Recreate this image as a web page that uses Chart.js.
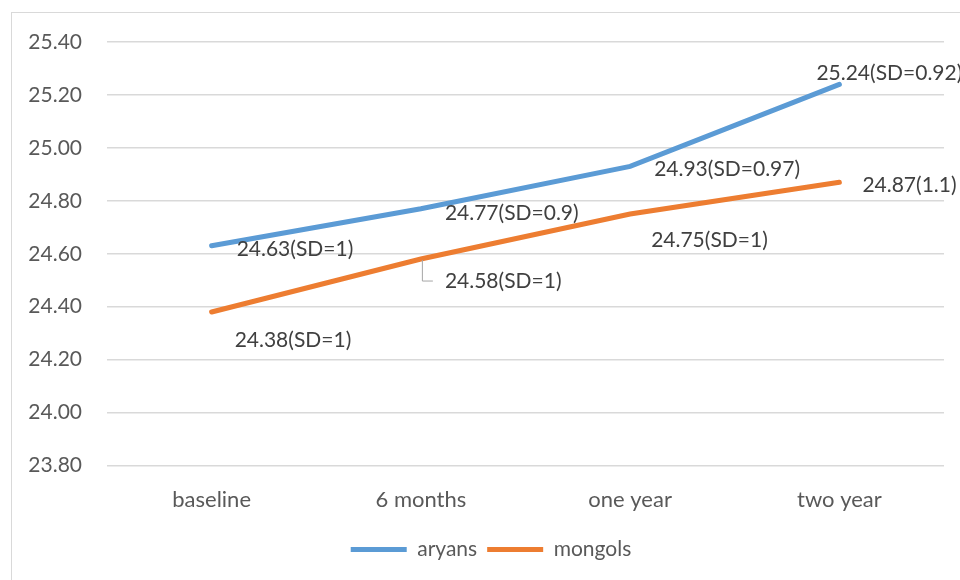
<!DOCTYPE html>
<html>
<head>
<meta charset="utf-8">
<script src="https://cdn.jsdelivr.net/npm/chart.js@4.4.1/dist/chart.umd.min.js"></script>
<style>
  html, body { margin: 0; padding: 0; background: #ffffff; }
  #wrap { width: 960px; height: 580px; position: relative; }
</style>
</head>
<body>
<div id="wrap"><canvas id="chart" width="960" height="580"></canvas></div>
<script>
// values
const categories = ['baseline', '6 months', 'one year', 'two year'];
const aryans = [24.63, 24.77, 24.93, 25.24];
const mongols = [24.38, 24.58, 24.75, 24.87];
const aryansLabels = ['24.63(SD=1)', '24.77(SD=0.9)', '24.93(SD=0.97)', '25.24(SD=0.92)'];
const mongolsLabels = ['24.38(SD=1)', '24.58(SD=1)', '24.75(SD=1)', '24.87(1.1)'];
const yTicks = { min: 23.8, max: 25.4, step: 0.2 };

// where each data label sits relative to its point (px)
const labelOffsets = [
    [[25, 3], [24, 4], [24, 3], [-23, -11]],
    [[23, 28], [24, 22], [21, 26], [23, 3]]
];
const leaderLines = [[], [1]]; // mongols 6 months has a leader line

const FONT = 'Lato, "Liberation Sans", sans-serif';

const frame = {
    id: 'frame',
    beforeDraw(chart) {
        const ctx = chart.ctx;
        ctx.save();
        ctx.strokeStyle = '#d9d9d9';
        ctx.lineWidth = 1;
        ctx.strokeRect(11.5, 12.5, 980, 600);
        ctx.restore();
    }
};

// nudge the legend a little to the right, as in the original
const legendShift = {
    id: 'legendShift',
    afterLayout(chart) {
        const lg = chart.legend;
        if (!lg) return;
        lg.left += 6;
        lg.right += 6;
        lg.legendHitBoxes.forEach(b => { b.left += 6; });
    }
};

const dataLabels = {
    id: 'dataLabels',
    afterDatasetsDraw(chart) {
        const ctx = chart.ctx;
        const texts = [aryansLabels, mongolsLabels];
        ctx.save();
        ctx.font = '21px ' + FONT;
        ctx.fillStyle = '#404040';
        ctx.textAlign = 'left';
        ctx.textBaseline = 'middle';
        chart.data.datasets.forEach((ds, di) => {
            const meta = chart.getDatasetMeta(di);
            meta.data.forEach((pt, i) => {
                const [dx, dy] = labelOffsets[di][i];
                if (leaderLines[di].includes(i)) {
                    ctx.save();
                    ctx.strokeStyle = '#a6a6a6';
                    ctx.lineWidth = 1;
                    ctx.beginPath();
                    ctx.moveTo(pt.x + 1.5, pt.y + 1);
                    ctx.lineTo(pt.x + 1.5, pt.y + dy);
                    ctx.lineTo(pt.x + dx - 12, pt.y + dy);
                    ctx.stroke();
                    ctx.restore();
                }
                ctx.fillText(texts[di][i], pt.x + dx, pt.y + dy);
            });
        });
        ctx.restore();
    }
};

new Chart(document.getElementById('chart'), {
    type: 'line',
    data: {
        labels: categories,
        datasets: [
            {
                label: 'aryans',
                data: aryans,
                borderColor: '#5b9bd5',
                backgroundColor: '#5b9bd5',
                borderWidth: 5,
                borderCapStyle: 'round',
                pointRadius: 0,
                tension: 0
            },
            {
                label: 'mongols',
                data: mongols,
                borderColor: '#ed7d31',
                backgroundColor: '#ed7d31',
                borderWidth: 5,
                borderCapStyle: 'round',
                pointRadius: 0,
                tension: 0
            }
        ]
    },
    options: {
        responsive: false,
        animation: false,
        devicePixelRatio: 1,
        layout: { padding: { top: 42, right: 16, bottom: 10, left: 26 } },
        plugins: {
            legend: {
                position: 'bottom',
                labels: {
                    usePointStyle: true,
                    pointStyle: 'line',
                    pointStyleWidth: 56,
                    color: '#595959',
                    font: { family: FONT, size: 21 },
                    padding: 10
                }
            },
            tooltip: { enabled: false }
        },
        scales: {
            x: {
                offset: true,
                grid: { display: false },
                border: { display: false },
                ticks: { color: '#595959', font: { family: FONT, size: 22 }, padding: 13 },
                afterFit(scale) { scale.height = 63.5; }
            },
            y: {
                min: yTicks.min,
                max: yTicks.max,
                grid: { color: '#d9d9d9', lineWidth: 1.5, drawTicks: false },
                border: { display: false },
                ticks: {
                    stepSize: yTicks.step,
                    color: '#595959',
                    font: { family: FONT, size: 21 },
                    padding: 25,
                    callback: v => v.toFixed(2)
                },
                afterFit(scale) { scale.width = 81; }
            }
        }
    },
    plugins: [frame, legendShift, dataLabels]
});
</script>
</body>
</html>
